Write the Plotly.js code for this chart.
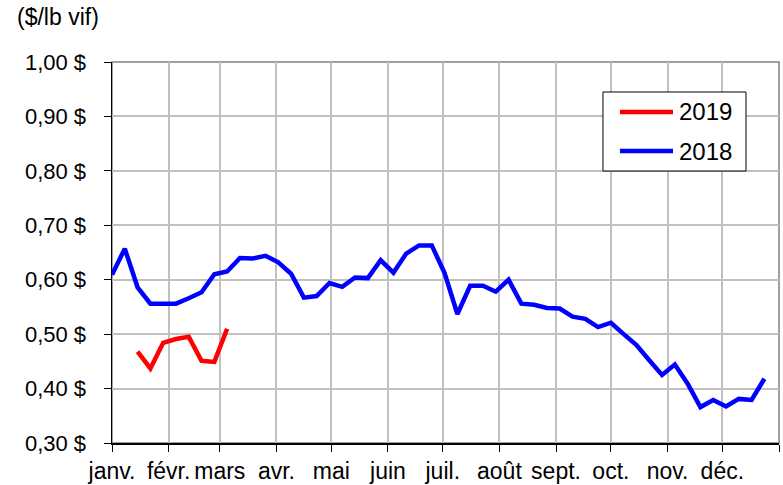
<!DOCTYPE html>
<html>
<head>
<meta charset="utf-8">
<script src="https://cdn.plot.ly/plotly-3.0.1.min.js"></script>
<style>html,body{margin:0;padding:0;background:#fff;}#chart{width:783px;height:485px;}</style>
</head>
<body>
<div id="chart"></div>
<script>
// Weekly dates (common calendar axis)
const weeks2018 = ["2018-01-01","2018-01-08","2018-01-15","2018-01-22","2018-01-29",
  "2018-02-05","2018-02-12","2018-02-19","2018-02-26",
  "2018-03-05","2018-03-12","2018-03-19","2018-03-26",
  "2018-04-02","2018-04-09","2018-04-16","2018-04-23","2018-04-30",
  "2018-05-07","2018-05-14","2018-05-21","2018-05-28",
  "2018-06-04","2018-06-11","2018-06-18","2018-06-25",
  "2018-07-02","2018-07-09","2018-07-16","2018-07-23","2018-07-30",
  "2018-08-06","2018-08-13","2018-08-20","2018-08-27",
  "2018-09-03","2018-09-10","2018-09-17","2018-09-24",
  "2018-10-01","2018-10-08","2018-10-15","2018-10-22","2018-10-29",
  "2018-11-05","2018-11-12","2018-11-19","2018-11-26",
  "2018-12-03","2018-12-10","2018-12-17","2018-12-24"];
const values2018 = [0.609,0.657,0.586,0.556,0.556,
  0.556,0.566,0.577,0.610,
  0.615,0.640,0.639,0.644,
  0.632,0.611,0.567,0.570,0.594,
  0.587,0.604,0.603,0.636,
  0.613,0.648,0.663,0.663,
  0.612,0.537,0.589,0.589,0.578,
  0.600,0.556,0.554,0.548,
  0.547,0.532,0.528,0.513,
  0.521,0.500,0.480,0.452,0.425,
  0.444,0.409,0.366,0.379,
  0.367,0.381,0.379,0.418];
const weeks2019 = ["2018-01-15","2018-01-22","2018-01-29","2018-02-05","2018-02-12","2018-02-19","2018-02-26","2018-03-05"];
const values2019 = [0.468,0.437,0.484,0.491,0.495,0.451,0.449,0.510];

const monthTicks = ["2018-01-01","2018-02-01","2018-03-01","2018-04-01","2018-05-01","2018-06-01",
  "2018-07-01","2018-08-01","2018-09-01","2018-10-01","2018-11-01","2018-12-01","2019-01-01"];
const monthLabels = ["janv.","févr.","mars","avr.","mai","juin","juil.","août","sept.","oct.","nov.","déc.",""];
const yTicks = [0.3,0.4,0.5,0.6,0.7,0.8,0.9,1.0];
const yLabels = ["0,30 $","0,40 $","0,50 $","0,60 $","0,70 $","0,80 $","0,90 $","1,00 $"];
const seriesNames = ["2019","2018"];
const seriesColors = ["#ff0000","#0000ff"];

const FONT = '"Liberation Sans", Arial, sans-serif';

const traces = [
  {x: weeks2019, y: values2019, type: 'scatter', mode: 'lines', name: seriesNames[0],
   line: {color: seriesColors[0], width: 4.5}},
  {x: weeks2018, y: values2018, type: 'scatter', mode: 'lines', name: seriesNames[1],
   line: {color: seriesColors[1], width: 4.5}}
];

// Legend box (drawn in paper coordinates)
const legendShapes = [
  {type: 'rect', xref: 'paper', yref: 'paper', x0: 0.7361, x1: 0.9505, y0: 0.7139, y1: 0.9213,
   fillcolor: '#ffffff', line: {color: '#000', width: 1}, layer: 'above'},
  {type: 'line', xref: 'paper', yref: 'paper', x0: 0.7616, x1: 0.8411, y0: 0.8688, y1: 0.8688,
   line: {color: seriesColors[0], width: 4.5}, layer: 'above'},
  {type: 'line', xref: 'paper', yref: 'paper', x0: 0.7616, x1: 0.8411, y0: 0.7664, y1: 0.7664,
   line: {color: seriesColors[1], width: 4.5}, layer: 'above'}
];
const legendTexts = [
  {text: seriesNames[0], xref: 'paper', yref: 'paper', x: 0.8471, y: 0.8688, xanchor: 'left',
   yanchor: 'middle', showarrow: false, font: {family: FONT, size: 24, color: '#000'}},
  {text: seriesNames[1], xref: 'paper', yref: 'paper', x: 0.8471, y: 0.7664, xanchor: 'left',
   yanchor: 'middle', showarrow: false, font: {family: FONT, size: 24, color: '#000'}}
];

const layout = {
  width: 783, height: 485,
  margin: {l: 112, r: 4, t: 62, b: 42},
  paper_bgcolor: '#ffffff', plot_bgcolor: '#ffffff',
  font: {family: FONT, size: 21, color: '#000'},
  showlegend: false,
  xaxis: {type: 'date', range: ['2018-01-01', '2019-01-01'],
    tickmode: 'array', tickvals: monthTicks, ticktext: monthLabels, tickangle: 0,
    ticks: 'outside', ticklen: 7, tickcolor: '#000', tickwidth: 1,
    showgrid: true, gridcolor: '#c0c0c0', gridwidth: 2,
    showline: true, linecolor: '#000', linewidth: 1.5,
    zeroline: false, tickfont: {family: FONT, size: 23, color: '#000'}},
  yaxis: {range: [0.3, 1.0], tickmode: 'array', tickvals: yTicks, ticktext: yLabels,
    ticks: 'outside', ticklen: 7, tickcolor: '#000', tickwidth: 1,
    ticklabelstandoff: 13,
    showgrid: true, gridcolor: '#c0c0c0', gridwidth: 2,
    showline: true, linecolor: '#000', linewidth: 1.5,
    zeroline: false, tickfont: {family: FONT, size: 22, color: '#000'}},
  shapes: [{type: 'rect', xref: 'paper', yref: 'paper', x0: 0, x1: 1, y0: 0, y1: 1,
    line: {color: '#808080', width: 1.5}, layer: 'below'}].concat(legendShapes),
  annotations: [{text: '($/lb vif)', xref: 'paper', yref: 'paper', x: -0.146, y: 1.118,
    xanchor: 'left', yanchor: 'middle', showarrow: false,
    font: {family: FONT, size: 23, color: '#000'}}].concat(legendTexts)
};

Plotly.newPlot('chart', traces, layout, {displayModeBar: false, staticPlot: true});
</script>
</body>
</html>
